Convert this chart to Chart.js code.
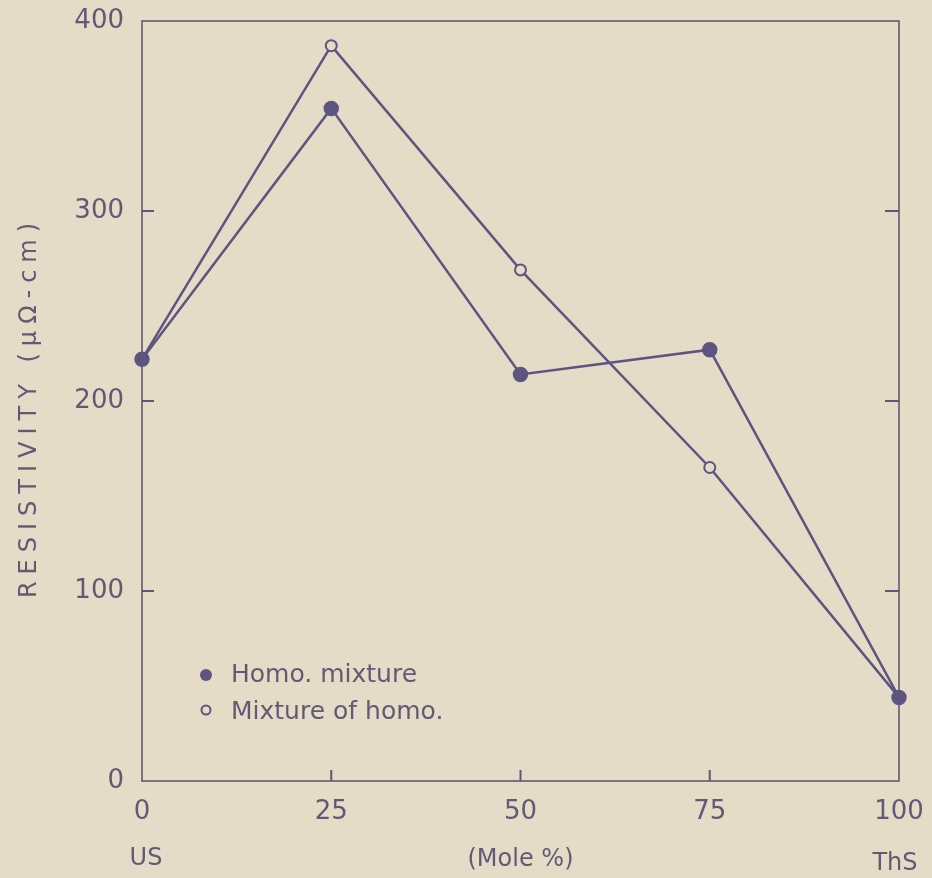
<!DOCTYPE html>
<html>
<head>
<meta charset="utf-8">
<script src="https://cdn.jsdelivr.net/npm/chart.js@4.4.0/dist/chart.umd.min.js"></script>
<style>
    html, body { margin: 0; padding: 0; background: #e5dcc7; }
    #wrap { width: 932px; height: 878px; }
</style>
</head>
<body>
<div id="wrap"><canvas id="grafico" width="932" height="878"></canvas></div>
<script>
// composition (mole %) from US to ThS
const molePct = [0, 25, 50, 75, 100];
const homoMixture = [222, 354, 214, 227, 44];
const mixtureOfHomo = [222, 387, 269, 165, 44];
const xTickLabels = ['0', '25', '50', '75', '100'];
const yTickValues = [0, 100, 200, 300, 400];

const fundo = '#e5dcc7';
const linha = '#5d5580';
const texto = '#625a74';
const moldura = '#5f5a6c';
const fonte = '"DejaVu Sans", sans-serif';

const pontos = (ys) => molePct.map((x, i) => ({ x: x, y: ys[i] }));

// frame + inward ticks on the plot box
const moldePlugin = {
    id: 'molde',
    beforeDatasetsDraw(chart) {
        const { ctx, chartArea: a, scales } = chart;
        ctx.save();
        ctx.strokeStyle = moldura;
        ctx.lineWidth = 1.6;
        ctx.strokeRect(a.left, a.top, a.right - a.left, a.bottom - a.top);
        ctx.lineWidth = 2;
        ctx.strokeStyle = linha;
        [25, 50, 75].forEach(v => {
            const px = scales.x.getPixelForValue(v);
            ctx.beginPath(); ctx.moveTo(px, a.bottom); ctx.lineTo(px, a.bottom - 11); ctx.stroke();
        });
        [100, 200, 300].forEach(v => {
            const py = scales.y.getPixelForValue(v);
            ctx.beginPath(); ctx.moveTo(a.left, py); ctx.lineTo(a.left + 12, py); ctx.stroke();
            ctx.beginPath(); ctx.moveTo(a.right, py); ctx.lineTo(a.right - 14, py); ctx.stroke();
        });
        ctx.restore();
    },
    afterDraw(chart) {
        const { ctx, chartArea: a } = chart;
        ctx.save();
        ctx.fillStyle = texto;
        // y title with wide spacing
        ctx.font = '24px ' + fonte;
        ctx.letterSpacing = '7px';
        ctx.translate(30, 407);
        ctx.rotate(-Math.PI / 2);
        ctx.textAlign = 'center';
        ctx.textBaseline = 'middle';
        ctx.fillText('RESISTIVITY (\u03bc\u03a9-cm)', 0, 0);
        ctx.restore();

        ctx.save();
        ctx.fillStyle = texto;
        ctx.font = '24px ' + fonte;
        ctx.textAlign = 'center';
        ctx.textBaseline = 'middle';
        ctx.fillText('US', chart.scales.x.getPixelForValue(0) + 4, 859);
        ctx.fillText('ThS', chart.scales.x.getPixelForValue(100) - 4, 864);

        // legend inside the plot
        const lx = a.left + 64, ly1 = a.bottom - 106, ly2 = a.bottom - 71;
        ctx.fillStyle = linha;
        ctx.beginPath(); ctx.arc(lx, ly1, 6, 0, Math.PI * 2); ctx.fill();
        ctx.strokeStyle = linha; ctx.lineWidth = 2;
        ctx.beginPath(); ctx.arc(lx, ly2, 4.5, 0, Math.PI * 2); ctx.stroke();
        ctx.fillStyle = texto;
        ctx.font = '25px ' + fonte;
        ctx.textAlign = 'left';
        ctx.fillText(chart.data.datasets[0].label, lx + 25, ly1);
        ctx.fillText(chart.data.datasets[1].label, lx + 25, ly2 + 2);
        ctx.restore();
    }
};

const ctx = document.getElementById('grafico').getContext('2d');
const grafico = new Chart(ctx, {
    type: 'line',
    data: {
        datasets: [{
            label: 'Homo. mixture',
            data: pontos(homoMixture),
            borderColor: linha,
            backgroundColor: linha,
            borderWidth: 2.5,
            pointRadius: 6.5,
            pointBackgroundColor: linha,
            pointBorderColor: linha,
            tension: 0,
            clip: false
        },
        {
            label: 'Mixture of homo.',
            data: pontos(mixtureOfHomo),
            borderColor: linha,
            backgroundColor: fundo,
            borderWidth: 2.5,
            pointRadius: 5.5,
            pointBorderWidth: 2,
            pointBackgroundColor: fundo,
            pointBorderColor: linha,
            tension: 0,
            clip: false
        }]
    },
    plugins: [moldePlugin],
    options: {
        responsive: false,
        animation: false,
        layout: { padding: { top: 21, right: 33, left: 0, bottom: 0 } },
        plugins: {
            legend: { display: false },
            tooltip: { enabled: false }
        },
        scales: {
            x: {
                type: 'linear',
                min: 0,
                max: 100,
                afterFit: (s) => { s.height = 97; s.paddingLeft = 0; s.paddingRight = 0; },
                afterBuildTicks: (s) => { s.ticks = molePct.map(v => ({ value: v })); },
                grid: { display: false, drawTicks: false },
                border: { display: false },
                ticks: {
                    padding: 16,
                    color: texto,
                    font: { family: fonte, size: 26 },
                    callback: (v) => xTickLabels[molePct.indexOf(v)]
                },
                title: {
                    display: true,
                    text: '(Mole %)',
                    color: texto,
                    font: { family: fonte, size: 24 },
                    padding: { top: 16 }
                }
            },
            y: {
                type: 'linear',
                min: 0,
                max: 400,
                afterFit: (s) => { s.width = 142; s.paddingTop = 0; s.paddingBottom = 0; },
                afterBuildTicks: (s) => { s.ticks = yTickValues.map(v => ({ value: v })); },
                grid: { display: false, drawTicks: false },
                border: { display: false },
                ticks: {
                    padding: 18,
                    color: texto,
                    font: { family: fonte, size: 26 }
                }
            }
        }
    }
});
</script>
</body>
</html>
